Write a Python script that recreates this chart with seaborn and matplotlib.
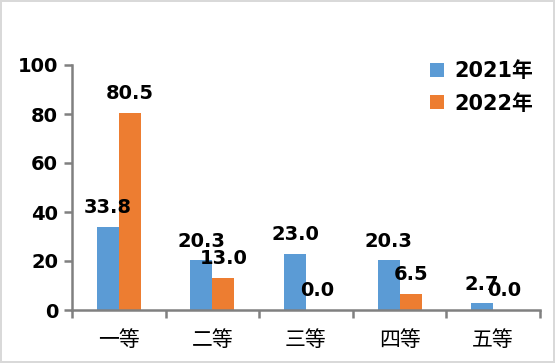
import matplotlib
matplotlib.use("Agg")
import matplotlib.pyplot as plt
import seaborn as sns
import pandas as pd
import numpy as np

categories = ["一等", "二等", "三等", "四等", "五等"]
years = ["2021年", "2022年"]
values_2021 = [33.8, 20.3, 23.0, 20.3, 2.7]
values_2022 = [80.5, 13.0, 0.0, 6.5, 0.0]
y_ticks = [0, 20, 40, 60, 80, 100]
colors = ["#5B9BD5", "#ED7D31"]

df = pd.DataFrame({
    "cat": categories * 2,
    "year": [years[0]] * len(categories) + [years[1]] * len(categories),
    "val": values_2021 + values_2022,
})

sns.set_theme(style="white")
plt.rcParams['font.family'] = ['DejaVu Sans', 'Noto Sans CJK SC']
plt.rcParams['text.color'] = 'black'
plt.rcParams['xtick.labelcolor'] = 'black'
plt.rcParams['ytick.labelcolor'] = 'black'

fig = plt.figure(figsize=(5.55, 3.63), dpi=100)
fig.patch.set_facecolor("white")
fig.patch.set_edgecolor("#D9D9D9")
fig.patch.set_linewidth(1.5)
ax = fig.add_axes([72/555, 1 - 310/363, (540-72)/555, (310-65)/363])

sns.barplot(data=df, x="cat", y="val", hue="year", order=categories,
            hue_order=years, palette=colors, width=0.47, saturation=1,
            linewidth=0, ax=ax)

for cont in ax.containers:
    ax.bar_label(cont, fmt="%.1f", padding=7, fontsize=14, fontweight="bold",
                 color="black")

ax.set_ylim(0, 100)
ax.set_xlim(-0.5, len(categories) - 0.5)
ax.set_yticks(y_ticks)
ax.set_yticklabels([str(t) for t in y_ticks], fontsize=14, fontweight="bold")
ax.set_xlabel("")
ax.set_ylabel("")

ax.set_xticks(range(len(categories)))
ax.set_xticklabels(categories, fontsize=15, family=['Noto Sans CJK SC', 'DejaVu Sans'])
ax.set_xticks(np.arange(-0.5, len(categories), 1.0), minor=True)
ax.tick_params(axis="x", which="major", length=0, pad=14, labelcolor="black")
ax.tick_params(axis="x", which="minor", length=6, width=1.8, color="#808080", direction="out", bottom=True)
ax.tick_params(axis="y", which="major", length=6, width=1.8, color="#808080", direction="out", left=True, pad=4, labelcolor="black")

for s in ["top", "right"]:
    ax.spines[s].set_visible(False)
for s in ["left", "bottom"]:
    ax.spines[s].set_color("#808080")
    ax.spines[s].set_linewidth(1.8)
ax.grid(False)

leg = ax.legend(loc="upper left", bbox_to_anchor=(430/555, 1 - 61/363),
                bbox_transform=fig.transFigure, frameon=False,
                prop={"size": 15, "weight": "bold", "family": ['DejaVu Sans', 'Noto Sans CJK SC']},
                handlelength=0.65, handleheight=0.65, handletextpad=0.5,
                labelspacing=0.6, borderpad=0, borderaxespad=0)
for t in leg.get_texts():
    t.set_color("black")

fig.savefig("out.png", dpi=100, facecolor=fig.get_facecolor(), edgecolor=fig.get_edgecolor())
